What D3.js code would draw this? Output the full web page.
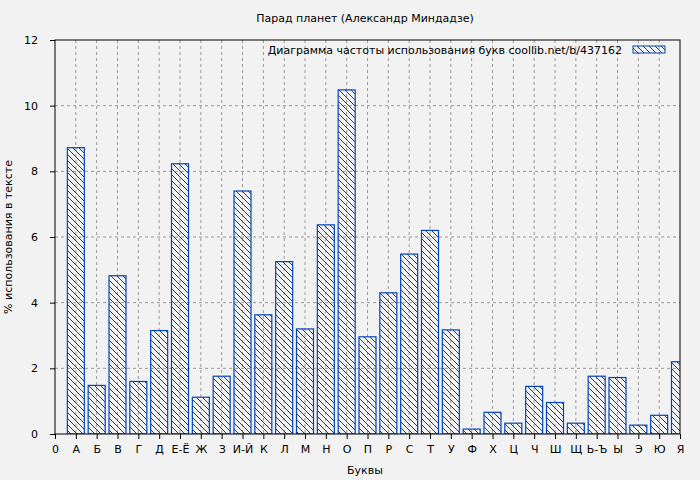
<!DOCTYPE html>
<html><head><meta charset="utf-8">
<script src="https://cdn.jsdelivr.net/npm/d3@7"></script>
<style>
body{margin:0;background:#f2f2f2;}
text{font-family:"DejaVu Sans",sans-serif;font-size:11px;fill:#000;}
</style></head>
<body><svg id="chart"></svg>
<script>
const letters = ["А","Б","В","Г","Д","Е-Ё","Ж","З","И-Й","К","Л","М","Н","О","П","Р","С","Т","У","Ф","Х","Ц","Ч","Ш","Щ","Ь-Ъ","Ы","Э","Ю","Я"];
const freqs = [8.72,1.48,4.82,1.6,3.15,8.23,1.12,1.76,7.4,3.63,5.25,3.2,6.37,10.48,2.96,4.3,5.48,6.2,3.17,0.15,0.66,0.33,1.45,0.96,0.33,1.76,1.72,0.27,0.57,2.2];
const yTicks = [0,2,4,6,8,10,12];

const W = 700, H = 480;
const margin = {top: 40, right: 20, bottom: 46, left: 55};
const w = W - margin.left - margin.right, h = H - margin.top - margin.bottom;

const svg = d3.select('#chart').attr('width', W).attr('height', H);
const defs = svg.append('defs');
defs.append('pattern').attr('id', 'hatch').attr('patternUnits', 'userSpaceOnUse')
    .attr('width', 6).attr('height', 6)
  .append('path').attr('d', 'M-1,-1 L7,7 M5,-1 L7,1 M-1,5 L1,7')
    .attr('stroke', '#0044bb').attr('stroke-width', 1);
defs.append('clipPath').attr('id', 'clip').append('rect').attr('width', w).attr('height', h);

const g = svg.append('g').attr('transform', `translate(${margin.left},${margin.top})`);

const x = d3.scaleLinear().domain([0, 30]).range([0, w]);
const y = d3.scaleLinear().domain([0, 12]).range([h, 0]);

// gridlines
g.append('g').selectAll('line').data(d3.range(1, 30)).join('line')
    .attr('x1', d => x(d)).attr('x2', d => x(d)).attr('y1', 0).attr('y2', h)
    .attr('stroke', '#999').attr('stroke-dasharray', '3,3');
g.append('g').selectAll('line').data(yTicks.slice(1, -1)).join('line')
    .attr('x1', 0).attr('x2', w).attr('y1', d => y(d)).attr('y2', d => y(d))
    .attr('stroke', '#999').attr('stroke-dasharray', '3,3');

// bars
const bw = 17;
g.append('g').attr('clip-path', 'url(#clip)').selectAll('rect').data(freqs).join('rect')
    .attr('x', (d, i) => x(i + 1) - bw / 2)
    .attr('y', d => y(d))
    .attr('width', bw)
    .attr('height', d => h - y(d))
    .attr('fill', 'url(#hatch)')
    .attr('stroke', '#0044bb').attr('stroke-width', 1.2);

// axes
const xAxis = d3.axisBottom(x).tickValues(d3.range(0, 31)).tickSize(5).tickPadding(6)
    .tickFormat(d => d === 0 ? '0' : letters[d - 1]);
const xg = g.append('g').attr('transform', `translate(0,${h})`).call(xAxis);
const yg = g.append('g').call(d3.axisLeft(y).tickValues(yTicks).tickSize(5).tickPadding(12));
[xg, yg].forEach(a => { a.select('.domain').remove(); a.selectAll('text').style('font-size', '11px'); });

g.append('rect').attr('width', w).attr('height', h).attr('fill', 'none').attr('stroke', '#000');

// legend
g.append('text').attr('x', 567).attr('y', 14).attr('text-anchor', 'end')
    .text('Диаграмма частоты использования букв  coollib.net/b/437162');
g.append('rect').attr('x', 578).attr('y', 6).attr('width', 32).attr('height', 7)
    .attr('fill', 'url(#hatch)').attr('stroke', '#0044bb');

// titles
svg.append('text').attr('x', 365).attr('y', 22).attr('text-anchor', 'middle')
    .text('Парад планет (Александр Миндадзе)');
svg.append('text').attr('x', 365).attr('y', 474).attr('text-anchor', 'middle').text('Буквы');
svg.append('text').attr('transform', `translate(12,${margin.top + h / 2}) rotate(-90)`)
    .attr('text-anchor', 'middle').text('% использования в тексте');
</script></body></html>
